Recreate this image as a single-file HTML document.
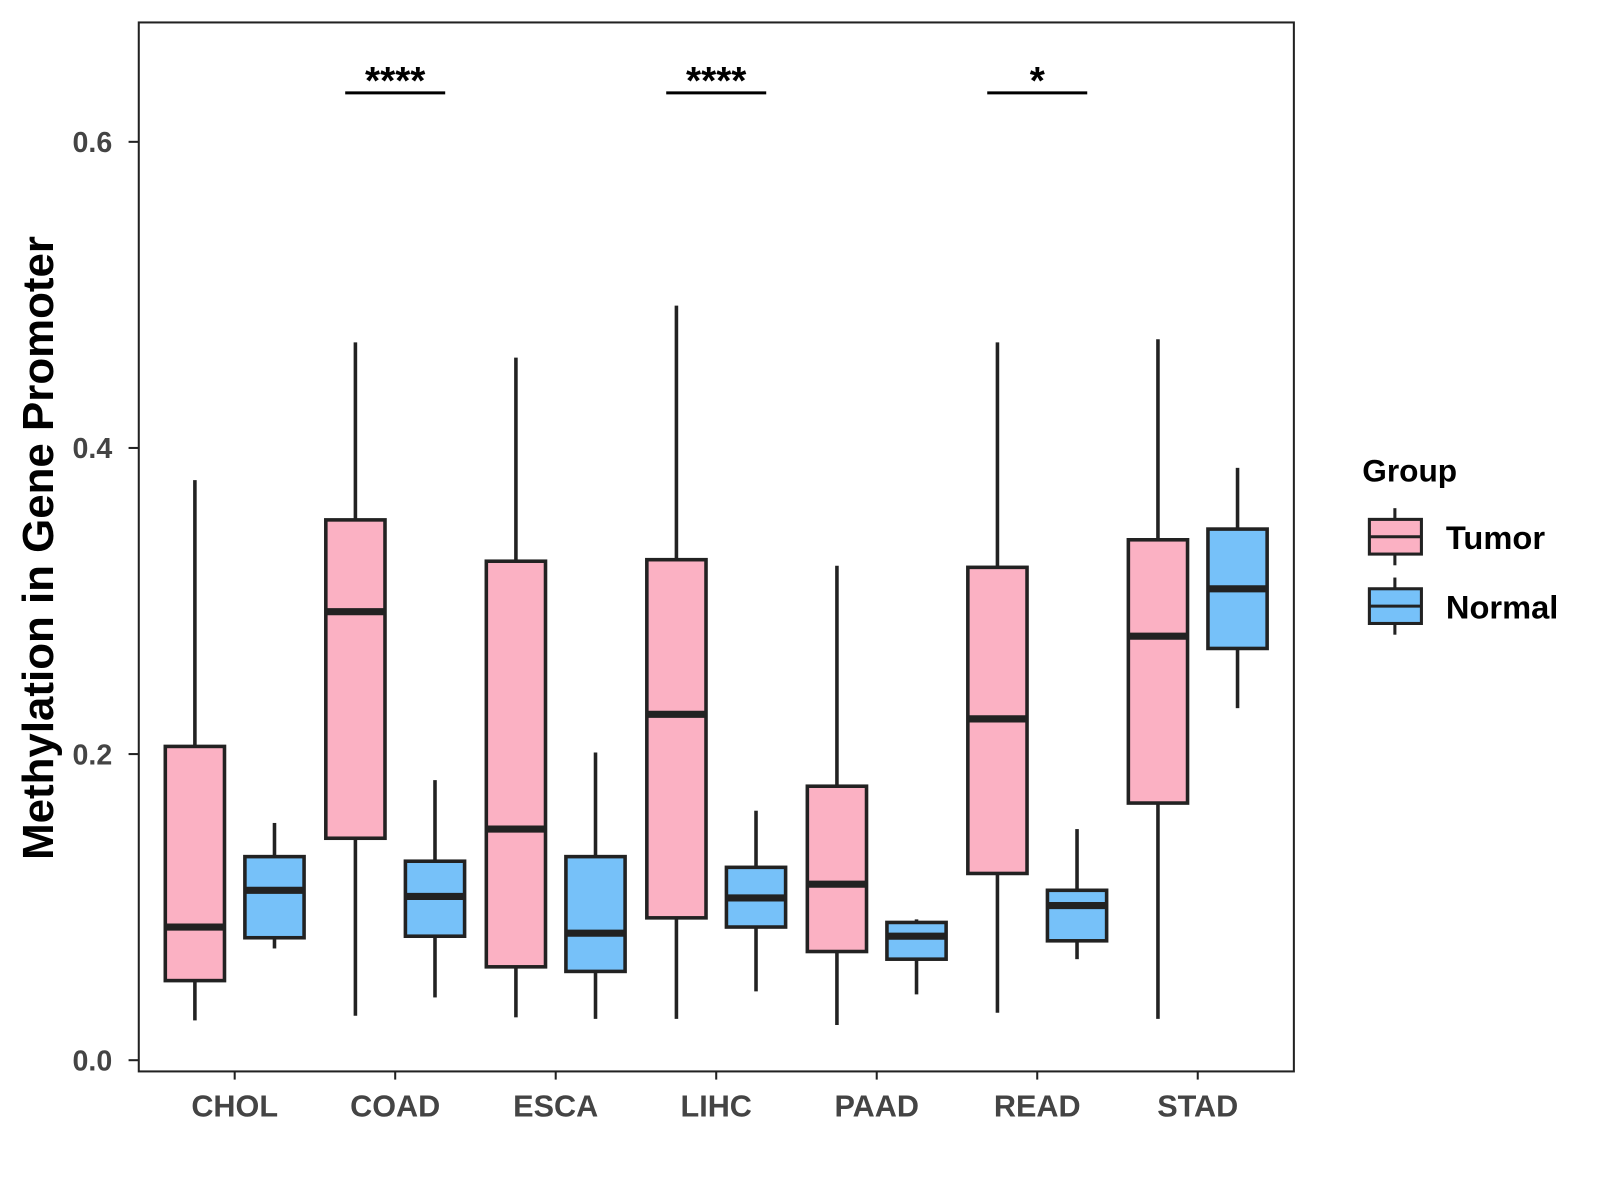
<!DOCTYPE html>
<html><head><meta charset="utf-8"><style>
html,body{margin:0;padding:0;background:#fff}
svg{display:block;font-family:"Liberation Sans",Arial,sans-serif;font-weight:bold}
</style></head><body>
<svg id="chart" width="1600" height="1200" viewBox="0 0 1600 1200">
<g transform="scale(1.0204)">
<rect x="136" y="22" width="1132" height="1028" fill="#fff" stroke="#222" stroke-width="2"/>
<g id="marks"></g>
<g id="axes"></g>
<text transform="translate(52,537) rotate(-90)" text-anchor="middle" font-size="43" fill="#000">Methylation in Gene Promoter</text>
<g>
<text x="1335" y="472" font-size="31" fill="#000">Group</text>
<g>
<line x1="1367" y1="498" x2="1367" y2="554" stroke="#222" stroke-width="3"/>
<rect x="1342" y="509" width="51" height="34" fill="#FBB1C3" stroke="#222" stroke-width="3"/>
<line x1="1342" y1="526" x2="1393" y2="526" stroke="#222" stroke-width="3"/>
<text x="1417" y="538" font-size="32" fill="#000">Tumor</text>
</g>
<g>
<line x1="1367" y1="566" x2="1367" y2="622" stroke="#222" stroke-width="3"/>
<rect x="1342" y="577" width="51" height="34" fill="#76C1F9" stroke="#222" stroke-width="3"/>
<line x1="1342" y1="594" x2="1393" y2="594" stroke="#222" stroke-width="3"/>
<text x="1417" y="606" font-size="32" fill="#000">Normal</text>
</g>
</g>
</g>
</svg>
<script>
const categories=["CHOL","COAD","ESCA","LIHC","PAAD","READ","STAD"];
const tumorLow=[0.026,0.029,0.028,0.027,0.023,0.031,0.027];
const tumorQ1=[0.052,0.145,0.061,0.093,0.071,0.122,0.168];
const tumorMed=[0.087,0.293,0.151,0.226,0.115,0.223,0.277];
const tumorQ3=[0.205,0.353,0.326,0.327,0.179,0.322,0.340];
const tumorHigh=[0.379,0.469,0.459,0.493,0.323,0.469,0.471];
const normalLow=[0.073,0.041,0.027,0.045,0.043,0.066,0.230];
const normalQ1=[0.080,0.081,0.058,0.087,0.066,0.078,0.269];
const normalMed=[0.111,0.107,0.083,0.106,0.081,0.101,0.308];
const normalQ3=[0.133,0.130,0.133,0.126,0.090,0.111,0.347];
const normalHigh=[0.155,0.183,0.201,0.163,0.092,0.151,0.387];
const yTicks=[0,0.2,0.4,0.6];
const yTickLabels=["0.0","0.2","0.4","0.6"];
const sigCategories=["COAD","LIHC","READ"];
const sigLabels=["****","****","*"];

const NS="http://www.w3.org/2000/svg";
const y=v=>1039-v*1500;
const x=i=>230+i*157.3;
const marks=document.getElementById('marks');
const axes=document.getElementById('axes');
function mk(tag,attrs,parent){const e=document.createElementNS(NS,tag);for(const k in attrs)e.setAttribute(k,attrs[k]);parent.appendChild(e);return e;}

function box(cx,lo,q1,md,q3,hi,fill,name){
  const g=mk('g',{},marks);
  
  
  mk('line',{x1:cx,x2:cx,y1:y(hi),y2:y(q3),stroke:'#222','stroke-width':3.5},g);
  mk('line',{x1:cx,x2:cx,y1:y(q1),y2:y(lo),stroke:'#222','stroke-width':3.5},g);
  mk('rect',{x:cx-29,y:y(q3),width:58,height:y(q1)-y(q3),fill:fill,stroke:'#222','stroke-width':3.5},g);
  mk('line',{x1:cx-29,x2:cx+29,y1:y(md),y2:y(md),stroke:'#222','stroke-width':7},g);
}
categories.forEach((c,i)=>{
  box(x(i)-39,tumorLow[i],tumorQ1[i],tumorMed[i],tumorQ3[i],tumorHigh[i],'#FBB1C3','box-tumor-'+c.toLowerCase());
  box(x(i)+39,normalLow[i],normalQ1[i],normalMed[i],normalQ3[i],normalHigh[i],'#76C1F9','box-normal-'+c.toLowerCase());
  const t=mk('line',{x1:x(i),x2:x(i),y1:1050,y2:1058,stroke:'#222','stroke-width':2},axes);
  
  
  const l=mk('text',{x:x(i),y:1094,'text-anchor':'middle','font-size':30,fill:'#444'},axes);
  l.textContent=c;
  
  
});
yTicks.forEach((v,i)=>{
  const t=mk('line',{x1:126,x2:136,y1:y(v),y2:y(v),stroke:'#222','stroke-width':2},axes);
  
  
  const l=mk('text',{x:110,y:y(v)+10,'text-anchor':'end','font-size':28,fill:'#444'},axes);
  l.textContent=yTickLabels[i];
  
  
});
sigCategories.forEach((c,k)=>{
  const i=categories.indexOf(c);
  const ln=mk('line',{x1:x(i)-49,x2:x(i)+49,y1:91,y2:91,stroke:'#000','stroke-width':3},marks);
  
  
  const t=mk('text',{x:x(i),y:92,'text-anchor':'middle','font-size':38,fill:'#000'},marks);
  t.textContent=sigLabels[k];
  
  
});
</script>
</body></html>
